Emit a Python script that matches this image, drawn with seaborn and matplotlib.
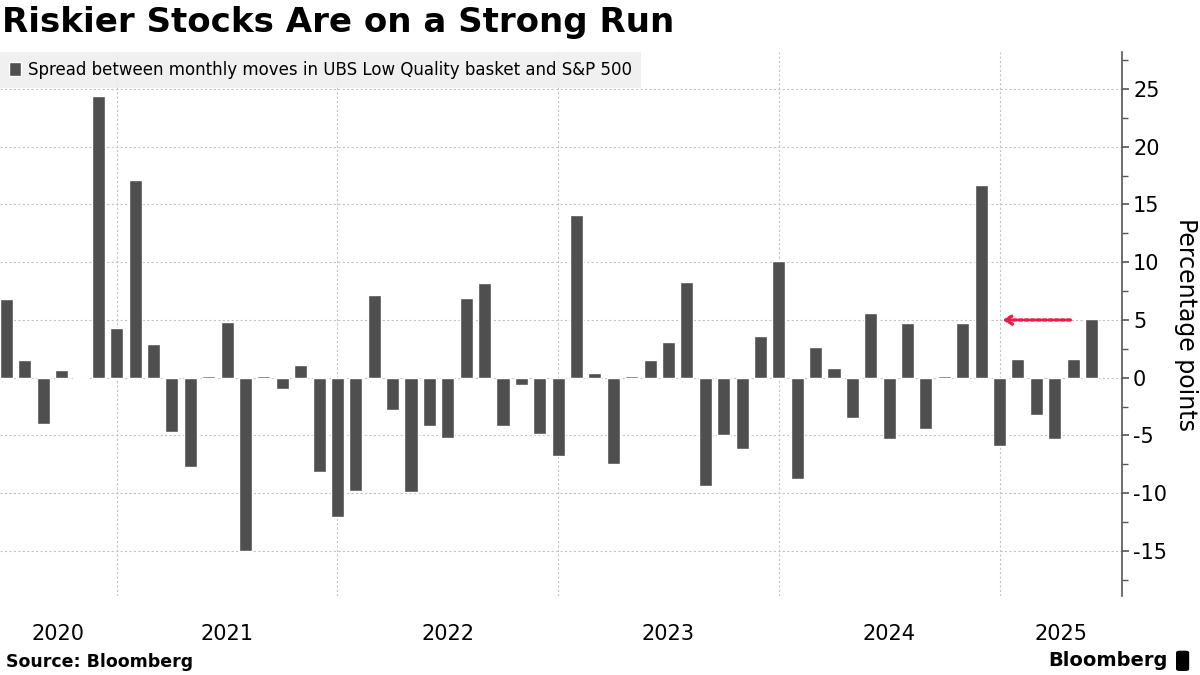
import numpy as np
import pandas as pd
import seaborn as sns
import matplotlib.pyplot as plt
import matplotlib.transforms as mtransforms
from matplotlib.patches import Patch, FancyBboxPatch

months = pd.date_range("2020-07-01", "2025-06-01", freq="MS").strftime("%Y-%m").tolist()
spread = [
    6.8, 1.5, -4.0, 0.7, -0.15, 24.4,         # 2020 Jul-Dec
    4.3, 17.1, 2.9, -4.7, -7.7, 0.15,         # 2021 Jan-Jun
    4.8, -15.0, 0.15, -1.0, 1.1, -8.2,        # 2021 Jul-Dec
    -12.1, -9.8, 7.2, -2.8, -9.9, -4.2,       # 2022 Jan-Jun
    -5.2, 6.9, 8.2, -4.2, -0.6, -4.9,         # 2022 Jul-Dec
    -6.8, 14.1, 0.4, -7.5, 0.15, 1.5,         # 2023 Jan-Jun
    3.1, 8.3, -9.4, -5.0, -6.2, 3.6,          # 2023 Jul-Dec
    10.1, -8.8, 2.7, 0.8, -3.5, 5.6,          # 2024 Jan-Jun
    -5.3, 4.7, -4.4, 0.15, 4.7, 16.7,         # 2024 Jul-Dec
    -5.9, 1.6, -3.2, -5.3, 1.6, 5.1,          # 2025 Jan-Jun
]
years = ["2020", "2021", "2022", "2023", "2024", "2025"]
legend_label = "Spread between monthly moves in UBS Low Quality basket and S&P 500"

df = pd.DataFrame({"month": months, "spread": spread})

sns.set_style("white")
plt.rcParams['font.family'] = ['DejaVu Sans']
plt.rcParams['text.color'] = 'black'
plt.rcParams['axes.labelcolor'] = 'black'
plt.rcParams['ytick.labelcolor'] = 'black'

fig = plt.figure(figsize=(12, 6.75), dpi=100)
ax = fig.add_axes([0.0, 0.117, 0.935, 0.806])

bar_color = "#4f4f4f"
sns.barplot(data=df, x="month", y="spread", color=bar_color, width=0.71,
            saturation=1, ax=ax, zorder=3)

n = len(months)
ax.set_xlim(-0.35, n + 0.66)
ax.set_ylim(-18.9, 28.2)

# january positions -> vertical gridlines
jan_idx = [i for i, m in enumerate(months) if m.endswith("-01")]
ax.set_xticks(jan_idx)
ax.set_xticklabels([])
ax.tick_params(axis="x", length=0)
ax.set_xlabel("")

ax.yaxis.tick_right()
ax.yaxis.set_label_position("right")
ax.set_yticks(np.arange(-15, 26, 5))
ax.set_yticks(np.arange(-17.5, 28, 2.5), minor=True)
ax.set_yticklabels([f"{int(v)}" if v >= 0 else f"-{int(-v)}" for v in np.arange(-15, 26, 5)])
ax.tick_params(axis="y", which="major", length=5, width=1.2, color="#555555",
               labelsize=15, pad=3, direction="out")
ax.tick_params(axis="y", which="minor", length=4, width=1, color="#555555", direction="out")
ax.set_ylabel("Percentage points", rotation=270, fontsize=17, labelpad=22)

ax.grid(True, which="major", axis="both", color="#c4c4c4", linestyle=(0, (2, 2)),
        linewidth=0.8, zorder=0)
ax.set_axisbelow(True)
for s in ["top", "left", "bottom"]:
    ax.spines[s].set_visible(False)
ax.spines["right"].set_color("#555555")
ax.spines["right"].set_linewidth(1.2)

# year labels centred in each year's visible span
trans = mtransforms.blended_transform_factory(ax.transData, ax.transAxes)
edges = [ax.get_xlim()[0]] + jan_idx + [ax.get_xlim()[1]]
for k, yr in enumerate(years):
    if 0 < k < len(years) - 1:
        xc = jan_idx[k - 1] + 6
    else:
        xc = (edges[k] + edges[k + 1]) / 2
    ax.text(xc, -0.07, yr, transform=trans, ha="center", va="center", fontsize=15)

# arrow pointing at the latest bar level
ax.annotate("", xy=(54, 5), xytext=(58, 5),
            arrowprops=dict(arrowstyle="->,head_length=0.5,head_width=0.3",
                            linestyle=(0, (1, 0.8)), color="#ec1b48", lw=2.4),
            zorder=5)

leg = ax.legend(handles=[Patch(facecolor=bar_color, label=legend_label)],
                loc="upper left", bbox_to_anchor=(0, 1), borderaxespad=0,
                frameon=True, fancybox=False, facecolor="#eeeeee", edgecolor="none",
                framealpha=0.85, fontsize=12, handlelength=0.7, handleheight=0.9,
                handletextpad=0.4, borderpad=0.55)

fig.text(0.002, 0.967, "Riskier Stocks Are on a Strong Run", fontsize=24.5,
         fontweight="heavy", va="center", ha="left")
fig.text(0.005, 0.019, "Source: Bloomberg", fontsize=12.5, fontweight="bold",
         va="center", ha="left")
fig.text(0.973, 0.021, "Bloomberg", fontsize=14, fontweight="bold",
         va="center", ha="right")
fig.patches.append(FancyBboxPatch((0.98, 0.006), 0.011, 0.03,
                                  boxstyle="round,pad=0,rounding_size=0.003",
                                  transform=fig.transFigure, facecolor="black",
                                  edgecolor="none"))

fig.savefig("out.png", dpi=100)
